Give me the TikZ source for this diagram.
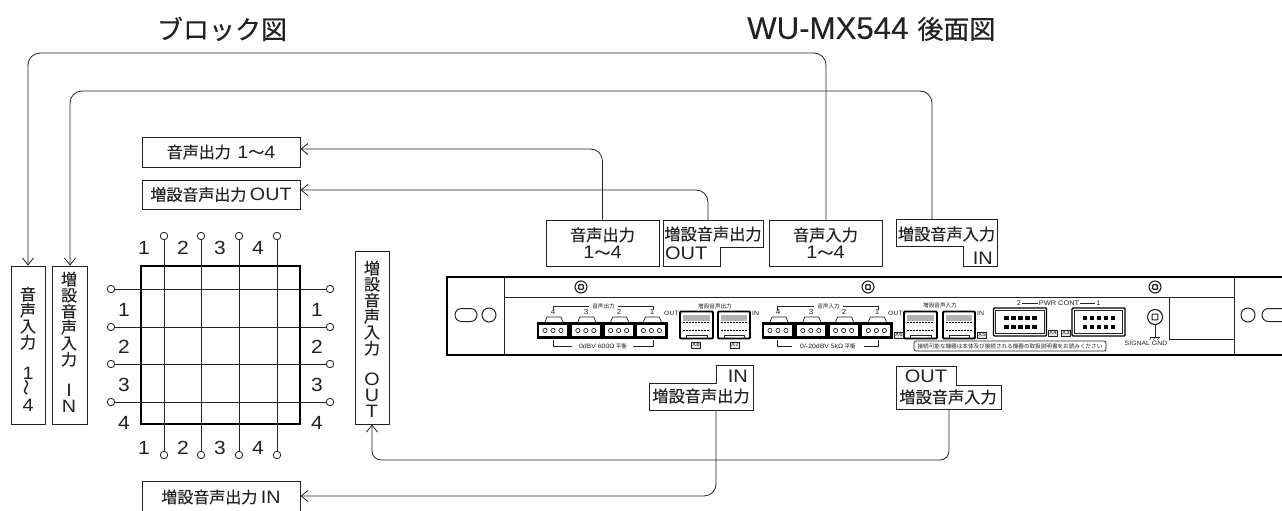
\documentclass[tikz,border=0pt]{standalone}
\usepackage{fontspec}
\setmainfont[FakeBold=0.3]{Noto Sans CJK JP}
\newfontfamily\cjkplain{Noto Sans CJK JP}
\newfontfamily\ltnf[Scale=1.12,FakeStretch=1.1]{Liberation Sans}
\newfontfamily\ltntitle[Scale=1.2,FakeBold=0.1]{Liberation Sans}
\newcommand{\ltn}[1]{{\ltnf #1}}
\usetikzlibrary{arrows.meta}
\definecolor{ink}{HTML}{222222}
\newcommand{\fs}[1]{\fontsize{#1}{#1}\selectfont}
\tikzset{
  box/.style={draw=ink,line width=.8pt,inner sep=0pt,align=center,fill=white,text=ink,font=\fs{16}},
  lab/.style={inner sep=0pt,align=center,text=ink,font=\fs{16.2}},
  num/.style={inner sep=0pt,text=ink,font=\fs{17}\ltnf},
  conn/.style={draw=ink,line width=.8pt,rounded corners=12pt},
  arr/.style={-{Straight Barb[length=7pt,width=11pt,line width=.8pt]}},
  tiny/.style={inner sep=0pt,text=ink,font=\fs{5.6}\cjkplain},
  panel/.style={draw=black,line width=2.6pt},
  thin/.style={draw=ink,line width=.7pt},
  xy/.style={draw=ink,line width=.5pt,fill=black!10,inner sep=0pt,minimum width=9pt,minimum height=6.5pt,font=\fs{5}\ltnf,text=ink},
  dot/.style={draw=ink,line width=.8pt,circle,minimum size=7.5pt,inner sep=0pt,fill=white},
}
\newcommand{\screw}[3]{%
  \draw[thin,line width=1.1pt] (#1,#2) circle (#3);
  \draw[thin,line width=1.1pt,rounded corners=.6pt] (#1-#3*.38,#2-#3*.38) rectangle (#1+#3*.38,#2+#3*.38);}
\newcommand{\termblock}[1]{%
  \begin{scope}[shift={(#1,322)}]
    \fill[black] (0,0) rectangle (131,17);
    \foreach \c in {0,1,2,3}{
      \begin{scope}[shift={(\c*32.8,0)}]
        \draw[thin,fill=white] (8,0) -- (10,-5) -- (24,-5) -- (26,0);
        \fill[white] (2,3) rectangle (30,14);
        \foreach \h in {8,16,24} \draw[thin] (\h,8.5) circle (2.1);
      \end{scope}}
  \end{scope}}
\newcommand{\rjport}[3]{%
  \begin{scope}[shift={(#1,#2)}]
    \draw[draw=black,line width=1.8pt,rounded corners=1pt,fill=white] (0,0) rectangle (#3,27);
    \fill[black!30] (3,3) rectangle (#3-3,9);
    \draw[black,line width=1.1pt,dash pattern=on 2pt off 1pt] (3,11) -- (#3-3,11);
    \draw[black,line width=1.1pt,dash pattern=on 2pt off 1pt] (3,19) -- (#3-3,19);
    \draw[thin] (6,27) -- (6,24) -- (#3-6,24) -- (#3-6,27);
  \end{scope}}
\newcommand{\pwrport}[2]{%
  \begin{scope}[shift={(#1,#2)}]
    \draw[draw=black,line width=1.4pt,rounded corners=1pt] (0,0) rectangle (53,28);
    \draw[thin] (2.2,2.2) rectangle (50.8,25.8);
    \foreach \px in {13,20,27,34,41} \foreach \py in {10,19}
      \fill[black] (\px,\py) ++(-2.4,-1.7) rectangle ++(4.8,3.4);
  \end{scope}}
\begin{document}
\begin{tikzpicture}[x=1pt,y=-1pt]
\useasboundingbox (0,0) rectangle (1282,511);
\fill[white] (0,0) rectangle (1282,511);

% titles
\node[lab,font=\fs{26}] (t1) at (222,29) {ブロック図};
\node[lab,font=\fs{26},anchor=west] (t2) at (747,29) {{\ltntitle WU-MX544}\hspace{9pt}後面図};

% diagram-side boxes
\node[box,minimum width=158pt,minimum height=30pt] (aout) at (221,152) {音声出力\hspace{3pt} \ltn{1}〜\ltn{4}};
\node[box,minimum width=158pt,minimum height=29pt] (xout) at (221,194.5) {増設音声出力 \ltn{OUT}};
\node[box,minimum width=158pt,minimum height=32pt] (xin) at (221,497) {増設音声出力 \ltn{IN}};

\node[box,minimum width=34pt,minimum height=158pt] (vain) at (28,345) {};
\node[box,minimum width=35pt,minimum height=158pt] (vxin) at (69.5,345) {};
\node[box,minimum width=34pt,minimum height=173pt] (vxout) at (372,337.5) {};
\node[lab,font=\fs{16}] (vaint) at (28,349) {音\\声\\入\\力\\[15pt]\ltn{1}\\\rotatebox{90}{〜}\\\ltn{4}};
\node[lab,font=\fs{16}] (vxint) at (69,342) {増\\設\\音\\声\\入\\力\\[15pt]\ltn{I}\\\ltn{N}};
\node[lab,font=\fs{16}] (vxoutt) at (372,339) {増\\設\\音\\声\\入\\力\\[15pt]\ltn{O}\\\ltn{U}\\\ltn{T}};

% matrix
\node[draw=black,line width=1.4pt,minimum width=159pt,minimum height=158pt,inner sep=0pt] (mx) at (220.5,345) {};
\foreach \i/\x/\lx in {1/164/144,2/201/183,3/239/220,4/277/258}{
  \node[dot] (t\i) at (\x,236) {};
  \node[dot] (b\i) at (\x,455) {};
  \draw[thin,line width=.8pt] (t\i) -- (b\i);
  \node[num] (tn\i) at (\lx,248) {\i};
  \node[num] (bn\i) at (\lx,448) {\i};
}
\foreach \i/\y/\ly in {1/289/310,2/327/347,3/364/385,4/402/423}{
  \node[dot] (l\i) at (111,\y) {};
  \node[dot] (r\i) at (330,\y) {};
  \draw[thin,line width=.8pt] (l\i) -- (r\i);
  \node[num] (ln\i) at (124,\ly) {\i};
  \node[num] (rn\i) at (317,\ly) {\i};
}

% rear-panel label boxes
\node[box,minimum width=113pt,minimum height=46pt,font=\fs{16.2}] (paout) at (602.5,243) {音声出力\\[1.5pt]\ltn{1}〜\ltn{4}};
\node[box,minimum width=113pt,minimum height=46pt,font=\fs{16.2}] (pain) at (825.5,243) {音声入力\\[1.5pt]\ltn{1}〜\ltn{4}};
% notched boxes
\draw[box] (663,220) -- (763,220) -- (763,247) -- (720,247) -- (720,266) -- (663,266) -- cycle;
\node[lab] (pxout) at (713,234) {増設音声出力};
\node[lab,anchor=west] (pxoutb) at (665,253.5) {\ltn{OUT}};
\coordinate (pxoutc) at (708,220);
\draw[box] (896,219) -- (997,219) -- (997,266) -- (963,266) -- (963,246) -- (896,246) -- cycle;
\node[lab] (pxin) at (946.5,234) {増設音声入力};
\node[lab,anchor=east] (pxinb) at (993,258) {\ltn{IN}};
\coordinate (pxinc) at (931,219);
\draw[box] (716,365) -- (753,365) -- (753,410) -- (649,410) -- (649,383) -- (716,383) -- cycle;
\node[lab,anchor=east] (qin) at (748,376) {\ltn{IN}};
\node[lab] (qinb) at (701,396) {増設音声出力};
\coordinate (qinc) at (716,410);
\draw[box] (896,366) -- (956,366) -- (956,385) -- (1001,385) -- (1001,409) -- (896,409) -- cycle;
\node[lab] (qout) at (926,376) {\ltn{OUT}};
\node[lab] (qoutb) at (948,397) {増設音声入力};
\coordinate (qoutc) at (949,409);

% connectors
\coordinate (c1a) at (826,53); \coordinate (c1b) at (28,53);
\coordinate (c2a) at (932,91); \coordinate (c2b) at (70,91);
\draw[conn,arr] (pain.north -| c1a) -- (c1a) -- (c1b) -- (vain.north);
\draw[conn,arr] (c2a |- pxinc) -- (c2a) -- (c2b) -- (vxin.north -| c2b);
\draw[conn,arr] (paout.north) |- (aout.east |- 0,149);
\draw[conn,arr] (pxoutc) |- (xout.east |- 0,190);
\draw[conn,arr] (qinc) |- (xin.east |- 0,496);
\draw[conn,rounded corners=9pt,arr] (qoutc) |- (372,460) -- (vxout.south);

% rear panel
\draw[panel] (1284,277) -- (447,277) -- (447,355) -- (1284,355);
\draw[thin,line width=1pt] (504,277) -- (504,355);
\draw[thin,line width=1pt] (1234,277) -- (1234,355);
\draw[thin,line width=.8pt] (504,297) -- (1234,297);
\draw[thin,line width=.8pt] (1169,297) -- (1169,339) -- (1234,339);
\draw[thin,line width=1pt,rounded corners=6.4pt] (455,308.5) rectangle (477,321.5);
\draw[thin,line width=1pt] (489,315) circle (7);
\draw[thin,line width=1pt] (1248,315) circle (7);
\draw[thin,line width=1pt,rounded corners=6.4pt] (1290,308.5) -- (1262,308.5) -- (1262,321.5) -- (1290,321.5);
\screw{581}{287}{6}
\screw{868}{287}{6}
\screw{1155}{287}{6}
\screw{1155}{317}{7.5}

\termblock{537}
\termblock{762}
% brackets and captions
\draw[thin] (553,310) -- (553,306) -- (589,306);
\draw[thin] (618,306) -- (653,306) -- (653,310);
\node[tiny] (l1) at (603.5,306) {音声出力};
\foreach \d/\x in {4/553,3/586,2/619,1/652} \node[tiny,font=\fs{6.5}\ltnf] at (\x,312) {\d};
\draw[thin] (553,340) -- (553,346) -- (572,346);
\draw[thin] (633,346) -- (653,346) -- (653,340);
\node[tiny] (l2) at (603,346) {\ltn{0dBV 600Ω} 平衡};
\draw[thin] (777,310) -- (777,306) -- (814,306);
\draw[thin] (843,306) -- (878,306) -- (878,310);
\node[tiny] (l3) at (828.5,306) {音声入力};
\foreach \d/\x in {4/778,3/811,2/844,1/877} \node[tiny,font=\fs{6.5}\ltnf] at (\x,312) {\d};
\draw[thin] (777,340) -- (777,346) -- (792,346);
\draw[thin] (864,346) -- (878,346) -- (878,340);
\node[tiny] (l4) at (828,346) {\ltn{0/-20dBV 5kΩ} 平衡};

\rjport{680}{311.5}{33}
\rjport{718}{311.5}{32}
\rjport{904}{311.5}{33}
\rjport{943}{311.5}{32}
\node[tiny] (l5) at (715,306) {増設音声出力};
\node[tiny,anchor=east,font=\fs{5.6}\ltnf] (l6) at (679,313) {OUT};
\node[tiny,anchor=west,font=\fs{5.6}\ltnf] (l7) at (752,313) {IN};
\node[xy] (x8) at (696,345) {X8};
\node[xy] (x7) at (735,345) {X7};
\node[tiny] (l8) at (940,305) {増設音声入力};
\node[tiny,anchor=east,font=\fs{5.6}\ltnf] (l9) at (903,313) {OUT};
\node[tiny,anchor=west,font=\fs{5.6}\ltnf] (l10) at (977,313) {IN};
\node[xy] (x6) at (899,335) {X6};
\node[xy] (x5) at (982,335) {X5};

\pwrport{993.5}{308}
\pwrport{1072}{308}
\node[tiny,font=\fs{6}\ltnf] (l11) at (1059,303) {PWR CONT};
\node[tiny,font=\fs{6}\ltnf] (l12) at (1019,303) {2};
\node[tiny,font=\fs{6}\ltnf] (l13) at (1098.5,303) {1};
\draw[thin] ([xshift=1pt]l12.east) -- ([xshift=-1pt]l11.west);
\draw[thin] ([xshift=1pt]l11.east) -- ([xshift=-1pt]l13.west);
\node[xy] (x4) at (1053,333) {X4};
\node[xy] (x3) at (1066,333) {X3};

\node[draw=ink,line width=.7pt,rounded corners=2pt,minimum width=192pt,minimum height=10pt,inner sep=0pt,font=\fs{5.6}\cjkplain,text=ink] (note) at (1010,346) {接続可能な機器は本体及び接続される機器の取扱説明書をお読みください};
\node[tiny,font=\fs{5.6}\ltnf] (sg) at (1146,343) {SIGNAL GND};
\draw[thin] (1155,325) -- (1155,337);
\draw[thin] (1150,337) -- (1160,337);
\foreach \g in {1151,1155,1159} \draw[thin,line width=.5pt] (\g,337) -- (\g-1.5,340);
\end{tikzpicture}
\end{document}
